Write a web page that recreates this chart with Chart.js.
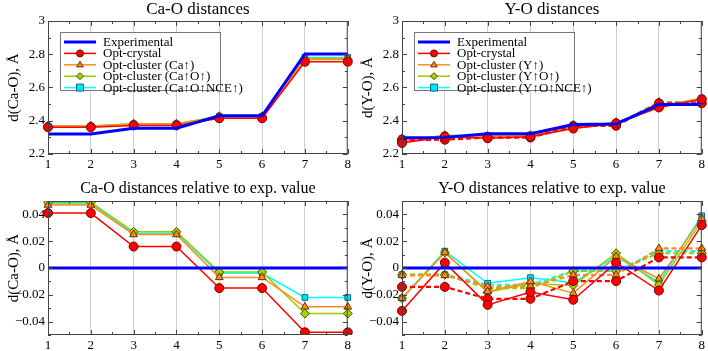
<!DOCTYPE html>
<html lang="en">
<head>
    <meta charset="UTF-8">
    <title>Ca-O / Y-O distances</title>
    <style>
        body {
            margin: 0;
            padding: 0;
            background-color: #fff;
        }
        .page {
            position: relative;
            width: 708px;
            height: 351px;
        }
        .page canvas {
            position: absolute;
        }
    </style>
    <script src="https://cdn.jsdelivr.net/npm/chart.js"></script>
</head>
<body>

    <div class="page">
        <canvas id="caAbs" width="354" height="176" style="left:0;top:0"></canvas>
        <canvas id="yAbs" width="354" height="176" style="left:354px;top:0"></canvas>
        <canvas id="caRel" width="354" height="175" style="left:0;top:176px"></canvas>
        <canvas id="yRel" width="354" height="175" style="left:354px;top:176px"></canvas>
    </div>

    <script>
        // bond index on the x axis
        const xLabels = ['1', '2', '3', '4', '5', '6', '7', '8'];

        // tick labels
        const absTicks = [2.2, 2.4, 2.6, 2.8, 3];
        const absTickLabels = ['2.2', '2.4', '2.6', '2.8', '3'];
        const relTicks = [-0.04, -0.02, 0, 0.02, 0.04];
        const relTickLabels = ['\u22120.04', '\u22120.02', '0', '0.02', '0.04'];

        // Ca-O distances, Å
        const caExp     = [2.320, 2.320, 2.355, 2.355, 2.430, 2.430, 2.802, 2.802];
        const caCrystal = [2.361, 2.361, 2.372, 2.372, 2.415, 2.415, 2.755, 2.755];
        const caCa      = [2.367, 2.367, 2.380, 2.380, 2.423, 2.423, 2.774, 2.774];
        const caCaO     = [2.369, 2.369, 2.382, 2.382, 2.427, 2.427, 2.768, 2.768];
        const caCaONce  = [2.368, 2.368, 2.381, 2.381, 2.426, 2.426, 2.781, 2.781];

        // Ca-O relative to experiment, Å
        const caRelExp     = [0, 0, 0, 0, 0, 0, 0, 0];
        const caRelCrystal = [0.041, 0.041, 0.016, 0.016, -0.015, -0.015, -0.048, -0.048];
        const caRelCa      = [0.047, 0.047, 0.025, 0.025, -0.007, -0.007, -0.029, -0.029];
        const caRelCaO     = [0.049, 0.049, 0.027, 0.027, -0.003, -0.003, -0.034, -0.034];
        const caRelCaONce  = [0.048, 0.048, 0.026, 0.026, -0.004, -0.004, -0.022, -0.022];

        // Y-O distances, Å (solid and dashed sets)
        const yExp           = [2.298, 2.300, 2.322, 2.322, 2.377, 2.380, 2.497, 2.497];
        const yCrystal       = [2.266, 2.304, 2.295, 2.304, 2.353, 2.384, 2.480, 2.529];
        const yCrystalB      = [2.284, 2.286, 2.299, 2.299, 2.367, 2.370, 2.505, 2.505];
        const yY             = [2.276, 2.312, 2.305, 2.312, 2.358, 2.389, 2.489, 2.534];
        const yYB            = [2.293, 2.295, 2.308, 2.308, 2.372, 2.375, 2.512, 2.512];
        const yYO            = [2.276, 2.312, 2.304, 2.311, 2.364, 2.391, 2.484, 2.532];
        const yYOB           = [2.293, 2.295, 2.307, 2.307, 2.375, 2.378, 2.508, 2.508];
        const yYONce         = [2.276, 2.313, 2.311, 2.315, 2.366, 2.389, 2.486, 2.536];
        const yYONceB        = [2.293, 2.295, 2.310, 2.310, 2.375, 2.378, 2.510, 2.510];

        // Y-O relative to experiment, Å
        const yRelExp      = [0, 0, 0, 0, 0, 0, 0, 0];
        const yRelCrystal  = [-0.032, 0.004, -0.0275, -0.018, -0.0237, 0.004, -0.0168, 0.032];
        const yRelCrystalB = [-0.0141, -0.0141, -0.023, -0.023, -0.0098, -0.0098, 0.0079, 0.0079];
        const yRelY        = [-0.0225, 0.0116, -0.0175, -0.010, -0.0188, 0.0087, -0.008, 0.037];
        const yRelYB       = [-0.0055, -0.0055, -0.0138, -0.0138, -0.0052, -0.0052, 0.0146, 0.0146];
        const yRelYO       = [-0.0225, 0.0116, -0.018, -0.0115, -0.013, 0.011, -0.0126, 0.035];
        const yRelYOB      = [-0.005, -0.005, -0.015, -0.015, -0.0022, -0.0022, 0.011, 0.011];
        const yRelYONce    = [-0.0225, 0.0126, -0.0114, -0.0072, -0.011, 0.0087, -0.0106, 0.039];
        const yRelYONceB   = [-0.005, -0.005, -0.0125, -0.0125, -0.0022, -0.0022, 0.0126, 0.0126];

        const FONT = "'Liberation Serif', 'DejaVu Serif', serif";

        // series styles: line colour, marker, marker fill, marker edge
        const styles = {
            exp:     { line: '#0000ff', shape: false },
            crystal: { line: '#ff0000', shape: 'circle',   fill: '#ff0000', edge: '#7a0000' },
            one:     { line: '#ff8c1a', shape: 'triangle', fill: '#ff8c1a', edge: '#6b3300' },
            two:     { line: '#9acd00', shape: 'rectRot',  fill: '#a8d400', edge: '#3d5200' },
            three:   { line: '#00ffff', shape: 'rect',     fill: '#00e5ff', edge: '#006b80' }
        };

        function series(label, data, key, dashed) {
            const s = styles[key];
            const ds = {
                label: label,
                data: data,
                borderColor: s.line,
                backgroundColor: s.line,
                borderWidth: key === 'exp' ? 3 : (dashed ? 2.2 : 1.5),
                borderDash: dashed ? [5, 3] : [],
                tension: 0,
                pointRadius: 0
            };
            if (s.shape) {
                ds.pointStyle = s.shape;
                ds.pointRadius = s.shape === 'rect' ? 4 : 4.5;
                ds.pointBackgroundColor = s.fill;
                ds.pointBorderColor = s.edge;
                ds.pointBorderWidth = 1;
            }
            return ds;
        }

        function drawMarker(ctx, shape, r, x, y) {
            if (shape === 'circle') {
                ctx.arc(x, y, r, 0, Math.PI * 2);
            } else if (shape === 'triangle') {
                ctx.moveTo(x, y - r);
                ctx.lineTo(x + r * 0.95, y + r * 0.6);
                ctx.lineTo(x - r * 0.95, y + r * 0.6);
                ctx.closePath();
            } else if (shape === 'rectRot') {
                ctx.moveTo(x, y - r); ctx.lineTo(x + r, y);
                ctx.lineTo(x, y + r); ctx.lineTo(x - r, y);
                ctx.closePath();
            } else {
                ctx.rect(x - r, y - r, 2 * r, 2 * r);
            }
        }

        // frame, inward ticks, title, y title and legend in grace style
        const gracePlugin = {
            id: 'grace',
            afterDraw(chart, args, opts) {
                const ctx = chart.ctx;
                const a = chart.chartArea;
                const xs = chart.scales.x;
                const ys = chart.scales.y;
                ctx.save();

                ctx.strokeStyle = '#444';
                ctx.lineWidth = 1;
                ctx.strokeRect(a.left + 0.5, a.top + 0.5, a.right - a.left - 1, a.bottom - a.top - 1);

                ctx.beginPath();
                for (let i = 0; i < xLabels.length; i++) {
                    const px = Math.round(xs.getPixelForValue(i)) + 0.5;
                    ctx.moveTo(px, a.bottom); ctx.lineTo(px, a.bottom - 5);
                    ctx.moveTo(px, a.top); ctx.lineTo(px, a.top + 5);
                    if (i < xLabels.length - 1) {
                        const mx = Math.round(xs.getPixelForValue(i + 0.5)) + 0.5;
                        ctx.moveTo(mx, a.bottom); ctx.lineTo(mx, a.bottom - 3);
                        ctx.moveTo(mx, a.top); ctx.lineTo(mx, a.top + 3);
                    }
                }
                const step = opts.minorStep;
                for (let v = ys.min; v <= ys.max + step / 2; v += step) {
                    const py = Math.round(ys.getPixelForValue(v)) + 0.5;
                    const major = opts.ticks.some(t => Math.abs(t - v) < step / 4);
                    const len = major ? 5 : 3;
                    ctx.moveTo(a.left, py); ctx.lineTo(a.left + len, py);
                    ctx.moveTo(a.right, py); ctx.lineTo(a.right - len, py);
                }
                ctx.stroke();

                ctx.fillStyle = '#000';
                ctx.font = opts.titleSize + 'px ' + FONT;
                ctx.textAlign = 'center';
                ctx.textBaseline = 'middle';
                ctx.fillText(opts.title, (a.left + a.right) / 2, opts.titleY);

                ctx.save();
                ctx.translate(14, (a.top + a.bottom) / 2);
                ctx.rotate(-Math.PI / 2);
                ctx.font = '15px ' + FONT;
                ctx.fillText(opts.yTitle, 0, 0);
                ctx.restore();

                if (opts.legend) {
                    const L = opts.legend;
                    ctx.fillStyle = '#fff';
                    ctx.fillRect(L.x, L.y, L.w, L.h);
                    ctx.strokeStyle = '#777';
                    ctx.strokeRect(L.x + 0.5, L.y + 0.5, L.w, L.h);
                    ctx.font = '13px ' + FONT;
                    ctx.textAlign = 'left';
                    const items = chart.data.datasets.filter(d => !d.borderDash.length);
                    items.forEach((d, i) => {
                        const y = L.y + 10 + i * 11.4;
                        ctx.strokeStyle = d.borderColor;
                        ctx.lineWidth = d.borderWidth;
                        ctx.beginPath();
                        ctx.moveTo(L.x + 4, y);
                        ctx.lineTo(L.x + 36, y);
                        ctx.stroke();
                        if (d.pointStyle) {
                            ctx.fillStyle = d.pointBackgroundColor;
                            ctx.strokeStyle = d.pointBorderColor;
                            ctx.lineWidth = 1;
                            ctx.beginPath();
                            drawMarker(ctx, d.pointStyle, 3.5, L.x + 20, y);
                            ctx.fill();
                            ctx.stroke();
                        }
                        ctx.fillStyle = '#000';
                        ctx.fillText(d.label, L.x + 43, y + 0.5);
                    });
                }
                ctx.restore();
            }
        };

        function makePanel(id, datasets, cfg) {
            const canvas = document.getElementById(id);
            return new Chart(canvas.getContext('2d'), {
                type: 'line',
                data: { labels: xLabels, datasets: datasets },
                options: {
                    responsive: false,
                    animation: false,
                    events: [],
                    layout: { padding: { top: cfg.top, right: 4, left: 0, bottom: 0 } },
                    plugins: {
                        legend: { display: false },
                        tooltip: { enabled: false },
                        grace: cfg
                    },
                    scales: {
                        x: {
                            type: 'category',
                            offset: false,
                            afterFit: s => { s.height = cfg.xHeight; },
                            grid: { color: '#cfcfcf', lineWidth: 1, drawTicks: false },
                            border: { display: false },
                            ticks: {
                                color: '#000',
                                padding: 3,
                                maxRotation: 0,
                                font: { family: FONT, size: 13 }
                            }
                        },
                        y: {
                            min: cfg.min,
                            max: cfg.max,
                            afterFit: s => { s.width = 48; },
                            afterBuildTicks: s => { s.ticks = cfg.ticks.map(v => ({ value: v })); },
                            grid: { display: false, drawTicks: false },
                            border: { display: false },
                            ticks: {
                                color: '#000',
                                padding: 3,
                                font: { family: FONT, size: 13 },
                                callback: v => {
                                    const i = cfg.ticks.findIndex(t => Math.abs(t - v) < 1e-9);
                                    return i >= 0 ? cfg.tickLabels[i] : '';
                                }
                            }
                        }
                    }
                },
                plugins: [gracePlugin]
            });
        }

        const legendBox = { x: 60, y: 32, w: 160, h: 58 };

        makePanel('caAbs', [
            series('Experimental', caExp, 'exp'),
            series('Opt-crystal', caCrystal, 'crystal'),
            series('Opt-cluster (Ca\u2191)', caCa, 'one'),
            series('Opt-cluster (Ca\u2191O\u2191)', caCaO, 'two'),
            series('Opt-cluster (Ca\u2191O\u2191NCE\u2191)', caCaONce, 'three')
        ], {
            top: 21, xHeight: 22, min: 2.2, max: 3, ticks: absTicks, tickLabels: absTickLabels,
            minorStep: 0.1, title: 'Ca-O distances', titleSize: 17, titleY: 10,
            yTitle: 'd(Ca-O), \u00c5', legend: legendBox
        });

        makePanel('yAbs', [
            series('Experimental', yExp, 'exp'),
            series('Opt-crystal', yCrystal, 'crystal'),
            series('Opt-crystal', yCrystalB, 'crystal', true),
            series('Opt-cluster (Y\u2191)', yY, 'one'),
            series('Opt-cluster (Y\u2191)', yYB, 'one', true),
            series('Opt-cluster (Y\u2191O\u2191)', yYO, 'two'),
            series('Opt-cluster (Y\u2191O\u2191)', yYOB, 'two', true),
            series('Opt-cluster (Y\u2191O\u2191NCE\u2191)', yYONce, 'three'),
            series('Opt-cluster (Y\u2191O\u2191NCE\u2191)', yYONceB, 'three', true)
        ], {
            top: 21, xHeight: 22, min: 2.2, max: 3, ticks: absTicks, tickLabels: absTickLabels,
            minorStep: 0.1, title: 'Y-O distances', titleSize: 17, titleY: 10,
            yTitle: 'd(Y-O), \u00c5', legend: legendBox
        });

        makePanel('caRel', [
            series('Experimental', caRelExp, 'exp'),
            series('Opt-crystal', caRelCrystal, 'crystal'),
            series('Opt-cluster (Ca\u2191)', caRelCa, 'one'),
            series('Opt-cluster (Ca\u2191O\u2191)', caRelCaO, 'two'),
            series('Opt-cluster (Ca\u2191O\u2191NCE\u2191)', caRelCaONce, 'three')
        ], {
            top: 25, xHeight: 16, min: -0.05, max: 0.05, ticks: relTicks, tickLabels: relTickLabels,
            minorStep: 0.01, title: 'Ca-O distances relative to exp. value', titleSize: 16, titleY: 13,
            yTitle: 'd(Ca-O), \u00c5'
        });

        makePanel('yRel', [
            series('Experimental', yRelExp, 'exp'),
            series('Opt-crystal', yRelCrystal, 'crystal'),
            series('Opt-crystal', yRelCrystalB, 'crystal', true),
            series('Opt-cluster (Y\u2191)', yRelY, 'one'),
            series('Opt-cluster (Y\u2191)', yRelYB, 'one', true),
            series('Opt-cluster (Y\u2191O\u2191)', yRelYO, 'two'),
            series('Opt-cluster (Y\u2191O\u2191)', yRelYOB, 'two', true),
            series('Opt-cluster (Y\u2191O\u2191NCE\u2191)', yRelYONce, 'three'),
            series('Opt-cluster (Y\u2191O\u2191NCE\u2191)', yRelYONceB, 'three', true)
        ], {
            top: 25, xHeight: 16, min: -0.05, max: 0.05, ticks: relTicks, tickLabels: relTickLabels,
            minorStep: 0.01, title: 'Y-O distances relative to exp. value', titleSize: 16, titleY: 13,
            yTitle: 'd(Y-O), \u00c5'
        });
    </script>
</body>
</html>
